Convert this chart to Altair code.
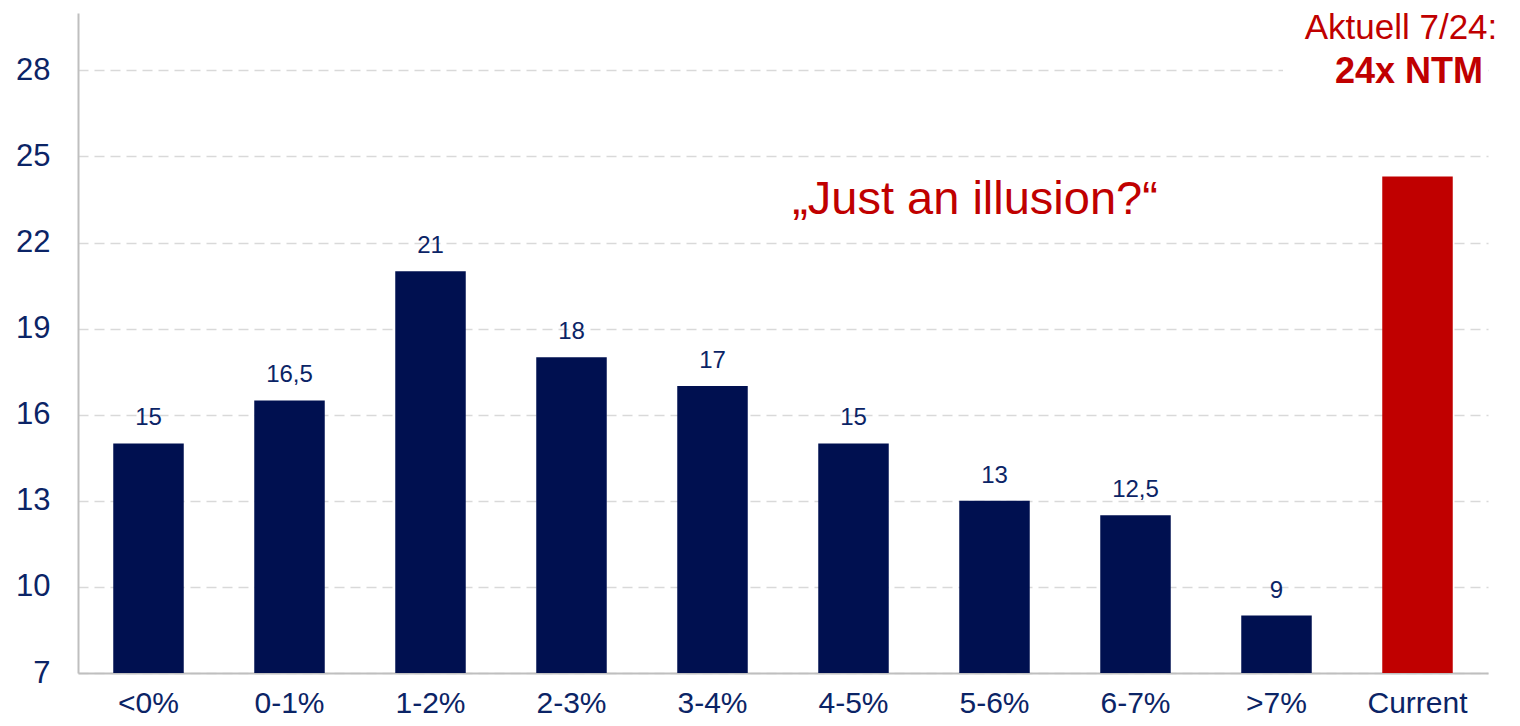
import altair as alt
import pandas as pd

categories = ["<0%", "0-1%", "1-2%", "2-3%", "3-4%", "4-5%", "5-6%", "6-7%", ">7%", "Current"]
values = [15, 16.5, 21, 18, 17, 15, 13, 12.5, 9, 24.3]
value_labels = ["15", "16,5", "21", "18", "17", "15", "13", "12,5", "9", ""]
y_ticks = [7, 10, 13, 16, 19, 22, 25, 28]

NAVY = "#001050"
TEXT = "#0B2466"
RED = "#C00000"
FONT = "Liberation Sans"

df = pd.DataFrame({"cat": categories, "val": values, "lab": value_labels})

x_enc = alt.X("cat:N", sort=categories,
              scale=alt.Scale(paddingInner=0.5, paddingOuter=0.25),
              axis=alt.Axis(title=None, labelAngle=0, ticks=False, labelFontSize=30,
                            labelColor=TEXT, labelPadding=15, domainColor="#BFBFBF",
                            domainWidth=2, labelFont=FONT))
y_scale = alt.Scale(domain=[7, 30], nice=False, zero=False)
y_enc = alt.Y("val:Q", scale=y_scale,
              axis=alt.Axis(title=None, values=y_ticks, ticks=False, labelFontSize=31,
                            labelColor=TEXT, labelPadding=28, domainColor="#BFBFBF",
                            domainWidth=2, grid=True, gridColor="#D9D9D9", gridDash=[10, 6],
                            gridWidth=1.5, labelFont=FONT))

base = alt.Chart(df)

cover = alt.Chart(pd.DataFrame({"a": [0]})).mark_rect(color="white").encode(
    x=alt.value(1205), x2=alt.value(1410), y=alt.datum(27.6), y2=alt.datum(28.4)
)

bars = base.mark_bar().encode(
    x=x_enc, y=y_enc, y2=alt.datum(7),
    color=alt.condition(alt.datum.cat == "Current", alt.value(RED), alt.value(NAVY)),
)

labels = base.mark_text(fontSize=24, color=TEXT, font=FONT, baseline="alphabetic", dy=-18).encode(
    x=alt.X("cat:N", sort=categories), y=alt.Y("val:Q"), text="lab:N"
)

illusion = alt.Chart(pd.DataFrame({"t": ["„Just an illusion?“"]})).mark_text(
    fontSize=47, color=RED, font=FONT, align="center", baseline="alphabetic"
).encode(x=alt.value(897), y=alt.datum(23), text="t:N")

akt1 = alt.Chart(pd.DataFrame({"t": ["Aktuell 7/24:"]})).mark_text(
    fontSize=35, color=RED, font=FONT, align="center", baseline="alphabetic"
).encode(x=alt.value(1323), y=alt.datum(29.1), text="t:N")

akt2 = alt.Chart(pd.DataFrame({"t": ["24x NTM"]})).mark_text(
    fontSize=36, color=RED, font=FONT, fontWeight="bold", align="center", baseline="alphabetic"
).encode(x=alt.value(1331), y=alt.datum(27.57), text="t:N")

chart = alt.layer(cover, bars, labels, illusion, akt1, akt2).properties(
    width=1410, height=660,
    autosize=alt.AutoSizeParams(type="none"),
    padding={"left": 70, "top": 5, "right": 24, "bottom": 45},
).configure(font=FONT).configure_view(stroke=None)

chart.save("out.html", embed_options={"renderer": "svg", "actions": False})
